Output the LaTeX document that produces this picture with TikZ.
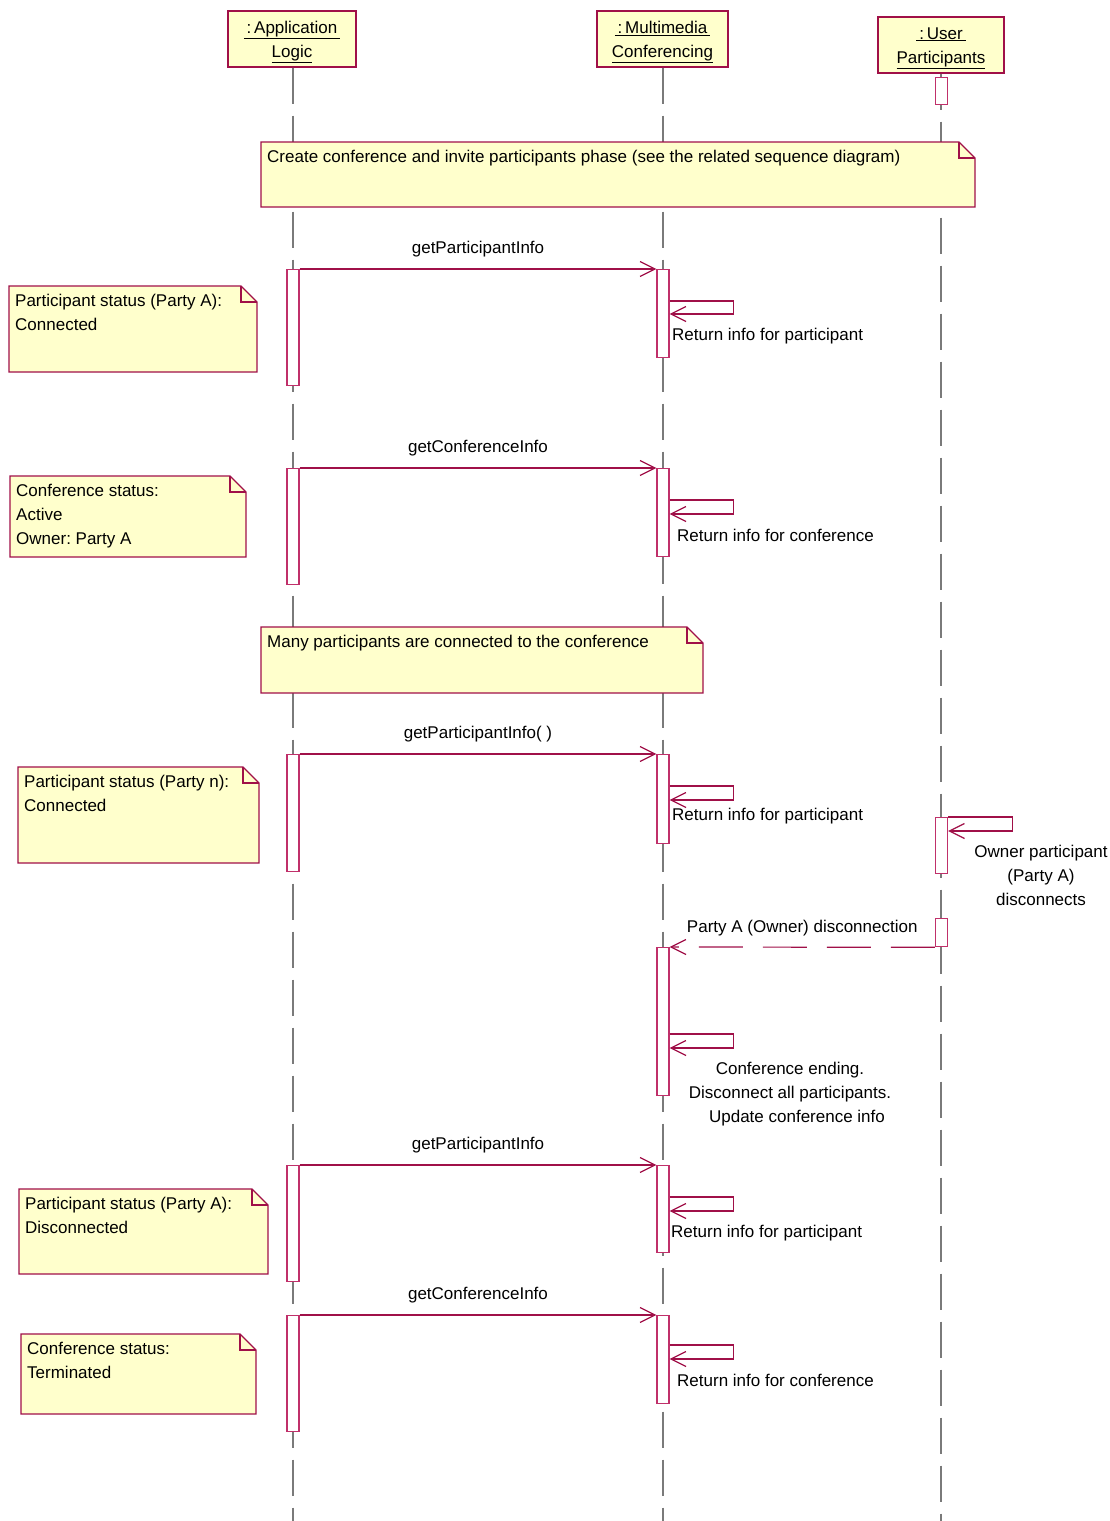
\documentclass[tikz,border=0pt]{standalone}
\usepackage{fontspec}
\setmainfont{Liberation Sans}
\usetikzlibrary{arrows.meta}
\frenchspacing
\definecolor{umlred}{HTML}{A01048}
\definecolor{actred}{HTML}{C0306A}
\definecolor{noteyellow}{HTML}{FFFFCC}
\definecolor{lifegray}{HTML}{7A7A7A}
\newcommand{\umlnote}[6]{%
  \filldraw[notebody] (#2,#3) -- (#4-16,#3) -- (#4,#3+16) -- (#4,#5) -- (#2,#5) -- cycle;
  \draw[notebody, fill=none] (#4-16,#3) -- (#4-16,#3+16) -- (#4,#3+16);
  \node[notetext] (#1) at (#2+6,#3+8) {#6};
}
\begin{document}
\begin{tikzpicture}[x=1pt, y=-1pt,
  font=\fontsize{17}{24}\selectfont,
  life/.style={draw=lifegray, line width=1.5pt, dash pattern=on 36pt off 12pt},
  head/.style={draw=umlred, fill=noteyellow, line width=1.2pt, inner sep=0pt},
  headtext/.style={align=center, inner sep=0pt},
  act/.style={draw=actred, fill=white, line width=1.3pt, minimum width=12pt, inner sep=0pt, anchor=north},
  msg/.style={draw=umlred, line width=1.2pt, -{Straight Barb[length=15pt,width=15pt]}},
  notebody/.style={draw=umlred, fill=noteyellow, line width=1.2pt, line join=miter},
  notetext/.style={anchor=north west, align=left, inner sep=0pt},
  lbl/.style={anchor=base, inner sep=0pt},
  sidelbl/.style={anchor=base west, inner sep=0pt}
]
\useasboundingbox (0,0) rectangle (1109,1521);

% headers
\node[head, minimum width=128pt, minimum height=56pt] (hA) at (292,39) {};
\node[headtext] (hAt) at (292,42) {\underline{\,:\,Application\,}\\\underline{Logic}};
\node[head, minimum width=131pt, minimum height=56pt] (hM) at (662.5,39) {};
\node[headtext] (hMt) at (662.5,42) {\underline{\,:\,Multimedia\,}\\\underline{Conferencing}};
\node[head, minimum width=126pt, minimum height=56pt] (hU) at (941,45) {};
\node[headtext] (hUt) at (941,48) {\underline{\,:\,User\,}\\\underline{Participants}};

% lifelines
\coordinate (endA) at (293,1521);
\coordinate (endM) at (663,1521);
\coordinate (endU) at (941,1521);
\draw[life] (hA.south -| endA) -- (endA);
\draw[life] (hM.south -| endM) -- (endM);
\draw[life] (hU.south -| endU) -- (endU);

% notes
\umlnote{n1}{261}{142}{975}{207}{Create conference and invite participants phase (see the related sequence diagram)}
\umlnote{n2}{9}{286}{257}{372}{Participant status (Party A):\\Connected}
\umlnote{n3}{10}{476}{246}{557}{Conference status:\\Active\\Owner: Party A}
\umlnote{n4}{261}{627}{703}{693}{Many participants are connected to the conference}
\umlnote{n5}{18}{767}{259}{863}{Participant status (Party n):\\Connected}
\umlnote{n6}{19}{1189}{268}{1274}{Participant status (Party A):\\Disconnected}
\umlnote{n7}{21}{1334}{256}{1414}{Conference status:\\Terminated}

% activations
\node[act, minimum height=27pt] (u1) at (941.5,77) {};
\node[act, minimum height=116pt] (a1) at (293,269) {};
\node[act, minimum height=88pt] (m1) at (663,269) {};
\node[act, minimum height=116pt] (a2) at (293,468) {};
\node[act, minimum height=88pt] (m2) at (663,468) {};
\node[act, minimum height=117pt] (a3) at (293,754) {};
\node[act, minimum height=89pt] (m3) at (663,754) {};
\node[act, minimum height=56pt] (u2) at (941.5,817) {};
\node[act, minimum height=28pt] (u3) at (941.5,918) {};
\node[act, minimum height=148pt] (m4) at (663,947) {};
\node[act, minimum height=116pt] (a4) at (293,1165) {};
\node[act, minimum height=87pt] (m5) at (663,1165) {};
\node[act, minimum height=116pt] (a5) at (293,1315) {};
\node[act, minimum height=88pt] (m6) at (663,1315) {};

% messages
\draw[msg] (a1.north east) -- (m1.north west) node[lbl, midway, yshift=16pt] {getParticipantInfo};
\draw[msg] ([yshift=-32pt]m1.north east) -- ++(64,0) -- ++(0,13) -- ([yshift=-45pt]m1.north east);
\node[sidelbl] (l1) at (672,340) {Return info for participant};

\draw[msg] (a2.north east) -- (m2.north west) node[lbl, midway, yshift=16pt] {getConferenceInfo};
\draw[msg] ([yshift=-32pt]m2.north east) -- ++(64,0) -- ++(0,14) -- ([yshift=-46pt]m2.north east);
\node[sidelbl] (l2) at (677,541) {Return info for conference};

\draw[msg] (a3.north east) -- (m3.north west) node[lbl, midway, yshift=16pt] {getParticipantInfo( )};
\draw[msg] ([yshift=-32pt]m3.north east) -- ++(64,0) -- ++(0,14) -- ([yshift=-46pt]m3.north east);
\node[sidelbl] (l3) at (672,820) {Return info for participant};

\draw[msg] (u2.north east) -- ++(64,0) -- ++(0,14) -- ([yshift=-14pt]u2.north east);
\node[anchor=north, align=center, inner sep=0pt] (l4) at (1041,845) {Owner participant\\(Party A)\\disconnects};

\draw[msg, dash pattern=on 44pt off 20pt] (u3.south west) -- (m4.north east) node[lbl, midway, yshift=15pt] {Party A (Owner) disconnection};

\draw[msg] ([yshift=-87pt]m4.north east) -- ++(64,0) -- ++(0,14) -- ([yshift=-101pt]m4.north east);
\node[anchor=north, align=center, inner sep=0pt] (l5) at (790,1062) {Conference ending.\\Disconnect all participants.\\\hspace*{14pt}Update conference info};

\draw[msg] (a4.north east) -- (m5.north west) node[lbl, midway, yshift=16pt] {getParticipantInfo};
\draw[msg] ([yshift=-32pt]m5.north east) -- ++(64,0) -- ++(0,14) -- ([yshift=-46pt]m5.north east);
\node[sidelbl] (l6) at (671,1237) {Return info for participant};

\draw[msg] (a5.north east) -- (m6.north west) node[lbl, midway, yshift=16pt] {getConferenceInfo};
\draw[msg] ([yshift=-30pt]m6.north east) -- ++(64,0) -- ++(0,14) -- ([yshift=-44pt]m6.north east);
\node[sidelbl] (l7) at (677,1386) {Return info for conference};
\end{tikzpicture}
\end{document}
